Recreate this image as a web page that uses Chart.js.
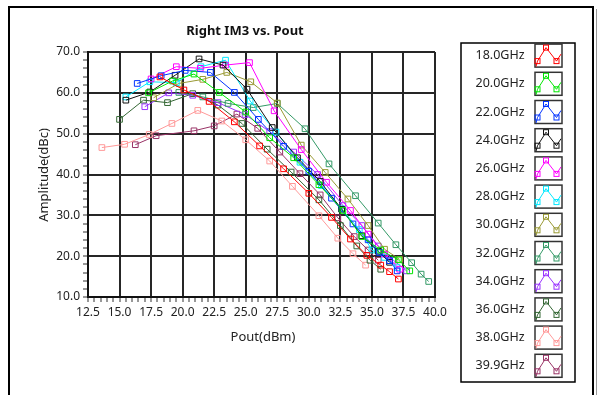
<!DOCTYPE html>
<html><head><meta charset="utf-8">
<script src="https://cdn.jsdelivr.net/npm/chart.js@4.4.1/dist/chart.umd.min.js"></script>
<style>html,body{margin:0;padding:0;background:#fff;}canvas{display:block;}</style>
</head><body>
<canvas id="c" width="603" height="395"></canvas>
<script>
// ---- data (Pout dBm, IM3 dBc) ----
const seriesNames = ['18.0GHz','20.0GHz','22.0GHz','24.0GHz','26.0GHz','28.0GHz','30.0GHz','32.0GHz','34.0GHz','36.0GHz','38.0GHz','39.9GHz'];
const seriesColors = ['#ff0000','#00e600','#0033ff','#111111','#ff00ff','#00e8ff','#999933','#339966','#9933ff','#336633','#ff9999','#993366'];
const f18 = [[18.2,63.9],[20.1,60.7],[22.1,57.9],[24.1,52.9],[26.1,47.0],[28.0,41.4],[30.0,35.4],[31.8,29.5],[33.3,24.2],[34.6,20.2],[35.7,17.8],[36.4,16.2],[37.1,14.4]];
const f20 = [[17.3,60.0],[19.2,62.9],[20.9,64.6],[22.9,60.1],[25.0,55.3],[26.9,49.0],[28.8,44.1],[30.8,37.5],[32.7,31.2],[34.2,24.8],[35.7,21.5],[37.1,19.1],[38.0,16.4]];
const f22 = [[16.4,62.3],[18.3,64.2],[20.2,65.5],[22.2,65.0],[24.1,60.1],[26.0,53.5],[28.0,46.9],[30.0,40.8],[31.8,34.2],[33.5,27.9],[34.7,24.0],[35.6,20.9],[36.4,18.9],[37.0,16.4]];
const f24 = [[15.5,58.2],[17.4,60.2],[19.4,64.3],[21.3,68.3],[23.2,66.8],[25.1,60.9],[27.1,51.5],[29.1,44.1],[30.9,38.3],[32.6,31.5],[34.2,25.0],[35.5,21.2],[36.4,18.5]];
const f26 = [[17.5,63.4],[19.5,66.4],[21.4,66.0],[23.4,66.8],[25.3,67.4],[27.25,55.6],[29.4,46.1],[31.4,38.1],[33.3,31.2],[34.7,25.4],[36.0,20.5],[37.2,16.8]];
const f28 = [[15.5,59.0],[17.4,62.7],[19.5,62.5],[21.45,66.4],[23.4,68.0],[25.35,58.0],[27.4,50.4],[29.3,43.0],[31.0,37.3],[32.6,31.6],[34.0,26.5],[35.0,21.5],[36.0,19.7],[37.0,17.2]];
const f30 = [[17.7,58.8],[19.7,62.3],[21.6,63.3],[23.5,65.0],[25.4,62.7],[27.5,57.5],[29.4,47.2],[31.3,40.5],[33.1,34.0],[34.7,27.5],[36.0,21.7],[37.2,19.2]];
const f32 = [[19.7,60.1],[21.6,59.0],[23.6,57.4],[25.6,56.4],[27.5,57.4],[29.7,51.2],[31.6,42.6],[33.7,34.8],[35.5,28.1],[36.9,22.8],[38.15,18.4],[38.9,15.6],[39.5,13.8]];
const f34 = [[17.0,56.6],[18.9,60.0],[20.8,59.4],[22.8,57.6],[24.95,54.7],[26.9,50.5],[28.8,45.5],[30.7,40.0],[32.7,32.4],[34.2,27.5],[35.5,22.5],[36.7,19.0],[37.75,16.4]];
const f36 = [[15.0,53.5],[16.9,58.2],[18.8,57.6],[20.8,59.8],[22.8,57.0],[24.7,52.5],[26.7,46.2],[28.6,40.6],[30.8,33.8],[32.5,27.5],[33.8,22.5],[34.85,19.0],[35.7,16.8]];
const f38 = [[13.6,46.6],[15.4,47.4],[17.35,49.8],[19.15,52.5],[21.2,55.7],[23.1,53.1],[25.0,48.5],[26.9,43.3],[28.7,37.1],[30.8,29.9],[32.3,24.4],[33.5,20.6],[34.5,17.8]];
const f399 = [[16.25,47.3],[17.9,49.5],[20.9,50.7],[22.5,51.9],[24.3,54.8],[25.95,51.3],[27.7,45.5],[29.3,40.2],[30.9,35.0],[32.3,29.4],[33.6,24.8],[34.7,21.5],[35.5,19.0]];
const seriesData = [f18,f20,f22,f24,f26,f28,f30,f32,f34,f36,f38,f399];
const chartTitle = 'Right IM3 vs. Pout';
const xTitle = 'Pout(dBm)';
const yTitle = 'Amplitude(dBc)';
const xMin = 12.5, xMax = 40.0, xMajor = 2.5, xMinor = 0.5;
const yMin = 10, yMax = 70, yMajor = 10, yMinor = 2;

const FONT = '"Noto Sans", "DejaVu Sans", sans-serif';
const isMajor = (v, step) => Math.abs(v/step - Math.round(v/step)) < 1e-6;
const GRID = '#262626';

const datasets = seriesData.map((d, i) => ({
  label: seriesNames[i],
  data: d.map(p => ({x: p[0], y: p[1]})),
  borderColor: seriesColors[i],
  backgroundColor: 'rgba(255,255,255,0)',
  borderWidth: 1,
  pointStyle: 'rect',
  pointRadius: 4,
  pointBorderWidth: 1,
  pointBorderColor: seriesColors[i],
  pointBackgroundColor: 'rgba(255,255,255,0)',
  showLine: true,
  tension: 0,
  fill: false
}));

const decor = {
  id: 'decor',
  afterDraw(chart) {
    const ctx = chart.ctx;
    ctx.save();
    // outer frame
    ctx.strokeStyle = '#000'; ctx.lineWidth = 2;
    ctx.beginPath();
    ctx.moveTo(9, 400); ctx.lineTo(9, 7); ctx.lineTo(593, 7); ctx.lineTo(593, 400);
    ctx.stroke();
    ctx.strokeStyle = '#999'; ctx.lineWidth = 1;
    ctx.beginPath(); ctx.moveTo(596.5, 9); ctx.lineTo(596.5, 400); ctx.stroke();
    // title
    ctx.fillStyle = '#111';
    ctx.font = 'bold 13px ' + FONT;
    ctx.textAlign = 'center'; ctx.textBaseline = 'middle';
    ctx.fillText(chartTitle, 245, 31);
    // axis titles
    ctx.font = '13px ' + FONT;
    ctx.fillStyle = '#222';
    ctx.fillText(xTitle, 263, 337);
    ctx.save();
    ctx.translate(44, 175); ctx.rotate(-Math.PI/2);
    ctx.fillText(yTitle, 0, 0);
    ctx.restore();
    // legend
    ctx.strokeStyle = '#000'; ctx.lineWidth = 1.5;
    ctx.strokeRect(461, 43, 114, 339);
    ctx.font = '12.5px ' + FONT;
    seriesNames.forEach((name, i) => {
      const cy = 55.6 + i * 28.2;
      ctx.fillStyle = '#222';
      ctx.textAlign = 'center'; ctx.textBaseline = 'middle';
      ctx.fillText(name, 500, cy);
      const bx = 535, by = cy - 11.5, bw = 27, bh = 23;
      ctx.strokeStyle = '#333'; ctx.lineWidth = 1.5;
      ctx.strokeRect(bx, by, bw, bh);
      ctx.strokeStyle = seriesColors[i]; ctx.lineWidth = 1;
      ctx.beginPath();
      ctx.moveTo(bx + 1, by + bh - 0.5);
      ctx.lineTo(bx + 2.5, by + 17);
      ctx.lineTo(bx + 11, by + 3.5);
      ctx.lineTo(bx + 21.5, by + 17);
      ctx.lineTo(bx + 26, by + 10);
      ctx.stroke();
      [[bx + 2.5, by + 17], [bx + 11, by + 3.5], [bx + 21.5, by + 17]].forEach(p => {
        ctx.strokeRect(p[0] - 2.5, p[1] - 2.5, 5, 5);
      });
    });
    ctx.restore();
  }
};

new Chart(document.getElementById('c'), {
  type: 'scatter',
  data: { datasets },
  options: {
    responsive: false,
    devicePixelRatio: 1,
    animation: false,
    layout: { padding: { left: 46, top: 52, right: 168, bottom: 76 } },
    plugins: { legend: { display: false }, tooltip: { enabled: false }, title: { display: false } },
    scales: {
      x: {
        type: 'linear', min: xMin, max: xMax,
        afterFit: s => { s.height = 22; },
        afterBuildTicks: s => {
          const t = [];
          for (let v = xMin; v <= xMax + 1e-9; v += xMinor) t.push({ value: Math.round(v * 10) / 10 });
          s.ticks = t;
        },
        ticks: {
          autoSkip: false, maxRotation: 0, padding: 3,
          color: '#222', font: { family: FONT, size: 12 },
          callback: v => isMajor(v, xMajor) ? v.toFixed(1) : ''
        },
        grid: {
          color: c => (c.tick && isMajor(c.tick.value, xMajor)) ? GRID : 'rgba(0,0,0,0)',
          lineWidth: 2, tickColor: '#333', tickLength: 5, tickWidth: 1
        },
        border: { color: '#111', width: 2 }
      },
      y: {
        type: 'linear', min: yMin, max: yMax,
        afterFit: s => { s.width = 42; },
        afterBuildTicks: s => {
          const t = [];
          for (let v = yMin; v <= yMax + 1e-9; v += yMinor) t.push({ value: v });
          s.ticks = t;
        },
        ticks: {
          autoSkip: false, padding: 3,
          color: '#222', font: { family: FONT, size: 12 },
          callback: v => isMajor(v, yMajor) ? v.toFixed(1) : ''
        },
        grid: {
          color: c => (c.tick && isMajor(c.tick.value, yMajor)) ? GRID : 'rgba(0,0,0,0)',
          lineWidth: 2, tickColor: '#333', tickLength: 5, tickWidth: 1
        },
        border: { color: '#111', width: 2 }
      }
    }
  },
  plugins: [decor]
});
</script>
</body></html>
